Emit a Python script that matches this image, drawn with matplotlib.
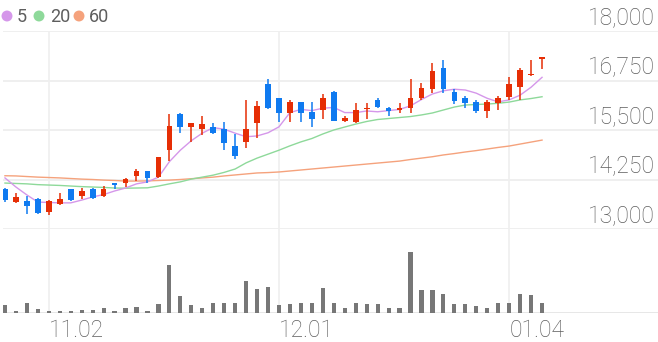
import numpy as np
import matplotlib
matplotlib.use('Agg')
import matplotlib.pyplot as plt

# ── Data ─────────────────────────────────────────────────────────────────────
opens = [14010, 13690, 13710, 13760, 13440, 13630, 14000, 13840, 14010, 13840,
         14150, 14150, 14340, 14460, 14320, 14990, 15900, 15580, 15530, 15570,
         15520, 15100, 15200, 15680, 16660, 16300, 15940, 16200, 15960, 16000,
         16470, 15730, 15690, 16020, 16260, 16060, 16000, 16050, 16320, 16530,
         17060, 16470, 16300, 16210, 15980, 16170, 16340, 16590, 16880, 17290]
highs = [14040, 13900, 13840, 13790, 13730, 13900, 14020, 14040, 14030, 14090,
         14150, 14300, 14510, 14460, 14830, 15900, 15920, 15680, 15850, 15680,
         15700, 15400, 16260, 16240, 16800, 16310, 16260, 16210, 16200, 16400,
         16490, 15850, 16190, 16190, 16300, 16090, 16190, 16790, 16680, 17190,
         17280, 16530, 16360, 16260, 16260, 16360, 16850, 17060, 17280, 17350]
lows = [13690, 13660, 13370, 13370, 13350, 13600, 13710, 13760, 13770, 13820,
        14000, 14050, 14210, 14150, 14290, 14720, 15420, 15200, 15370, 15390,
        14990, 14760, 15050, 15300, 16030, 15690, 15710, 15710, 15580, 15790,
        15720, 15690, 15670, 15770, 16060, 15850, 15920, 15940, 16270, 16430,
        16440, 16150, 16060, 15940, 15810, 16000, 16260, 16260, 16860, 17030]
closes = [13730, 13810, 13590, 13400, 13710, 13770, 13730, 13970, 13790, 14010,
          14100, 14260, 14460, 14290, 14810, 15610, 15580, 15670, 15650, 15430,
          15180, 14840, 15520, 16110, 16050, 15940, 16210, 15940, 15780, 16300,
          15730, 15810, 16000, 16060, 16090, 15990, 16060, 16310, 16550, 17000,
          16530, 16230, 16170, 15980, 16210, 16310, 16660, 17010, 16910, 17350]
ma5 = [14290, 14060, 13860, 13680, 13670, 13660, 13660, 13730, 13810, 13870,
       13960, 14035, 14140, 14190, 14310, 14700, 14990, 15230, 15420, 15560,
       15520, 15420, 15330, 15350, 15430, 15580, 15940, 16020, 15990, 16050,
       16070, 15940, 15940, 15980, 15960, 15990, 16020, 16110, 16270, 16410,
       16490, 16530, 16510, 16430, 16300, 16210, 16260, 16380, 16580, 16830]
ma20 = [14160, 14150, 14140, 14120, 14110, 14100, 14085, 14070, 14060, 14050,
        14035, 14030, 14035, 14040, 14085, 14140, 14190, 14260, 14310, 14360,
        14430, 14515, 14670, 14790, 14890, 14990, 15100, 15200, 15285, 15400,
        15500, 15575, 15650, 15715, 15765, 15790, 15815, 15840, 15880, 15930,
        16005, 16080, 16130, 16145, 16155, 16175, 16205, 16260, 16295, 16340]
ma60 = [14345, 14340, 14325, 14310, 14300, 14290, 14275, 14260, 14250, 14235,
        14225, 14210, 14210, 14215, 14225, 14235, 14250, 14270, 14290, 14310,
        14340, 14365, 14390, 14415, 14425, 14440, 14465, 14490, 14515, 14540,
        14565, 14590, 14615, 14640, 14665, 14690, 14715, 14755, 14790, 14825,
        14870, 14905, 14945, 14980, 15020, 15060, 15095, 15145, 15195, 15245]
volume = [24, 6, 31, 13, 5, 7, 6, 10, 8, 15, 5, 14, 19, 7, 28, 145, 50, 25, 16, 29,
          29, 31, 97, 72, 78, 23, 26, 31, 31, 76, 31, 15, 31, 28, 28, 15, 16, 184, 69, 69,
          56, 27, 27, 21, 15, 31, 29, 56, 54, 31]
tick_idx = [4, 25, 46]
tick_labels = ['11.02', '12.01', '01.04']
y_ticks = [13000, 14250, 15500, 16750, 18000]
ma_names = ['5', '20', '60']

# ── Colours ──────────────────────────────────────────────────────────────────
C_UP = '#e62e05'
C_DOWN = '#0f7af0'
C_MA = ['#d597ea', '#8ed99a', '#f5a27c']
C_VOL = '#777777'
C_GRID = '#efefef'
C_TEXT = '#5e5e5e'
FONT = 'Roboto'

W, H = 658, 342
fig = plt.figure(figsize=(W / 100, H / 100), dpi=100)

left = 3 / W
xlim = (-0.18, 59.58)
ax = fig.add_axes([left, 1 - 229 / H, 1 - left, 198 / H])
axv = fig.add_axes([left, 1 - 313 / H, 1 - left, 84 / H])

x = np.arange(len(opens))
o, hi, lo, c = map(np.array, (opens, highs, lows, closes))
up = c >= o
cols = np.where(up, C_UP, C_DOWN)

# grid
for yv in y_ticks:
    ax.axhline(yv, color=C_GRID, lw=1.4, zorder=0)
for a in (ax, axv):
    for t in tick_idx:
        a.axvline(t, color=C_GRID, lw=1.2, zorder=0)

# moving averages
for vals, col in zip((ma60, ma20, ma5), C_MA[::-1]):
    ax.plot(x, vals, color=col, lw=1.0, zorder=2)

# candles
ax.vlines(x, lo, hi, colors=cols, lw=1.1, zorder=3)
body = np.maximum(np.abs(c - o), 35)
ax.bar(x, body, bottom=np.minimum(o, c), width=0.52, color=cols, zorder=4)

ax.set_xlim(*xlim)
ax.set_ylim(13000, 18000)
ax.axis('off')

for yv in y_ticks:
    ax.annotate(f'{yv:,}', xy=(1, yv), xycoords=('axes fraction', 'data'),
                xytext=(-2, 4.3), textcoords='offset points', ha='right',
                va='baseline', fontsize=16.5, family=FONT, fontweight='light',
                color=C_TEXT, annotation_clip=False)

# volume
axv.bar(x, volume, width=0.38, color=C_VOL, zorder=2)
axv.axhline(0, color='#e3e3e3', lw=1.2, zorder=1)
axv.set_xlim(*xlim)
axv.set_ylim(0, 252)
axv.axis('off')
for t, lbl in zip(tick_idx, tick_labels):
    axv.annotate(lbl, xy=(t, 0), xycoords='data', xytext=(0, -4.5),
                 textcoords='offset points', ha='left', va='top',
                 fontsize=16.5, family=FONT, fontweight='light', color=C_TEXT,
                 annotation_clip=False)

# legend (pixel coordinates overlay)
leg = fig.add_axes([0, 0, 1, 1], zorder=5)
leg.set_xlim(0, W)
leg.set_ylim(H, 0)
leg.axis('off')
for name, col, dx, tx in zip(ma_names, C_MA, [7, 39, 79], [17, 50, 89]):
    leg.scatter([dx], [16], s=62, color=col, edgecolors='none')
    leg.text(tx, 16.5, name, ha='left', va='center', fontsize=13,
             family=FONT, color=C_TEXT)

fig.savefig('out.png', dpi=100, facecolor='white')
